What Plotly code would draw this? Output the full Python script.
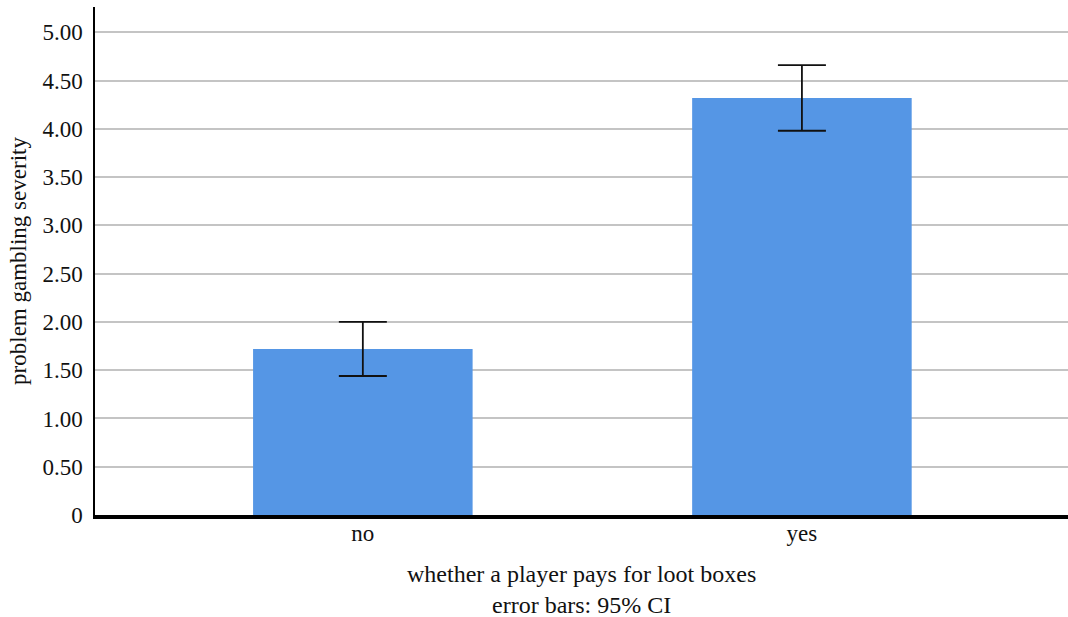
import plotly.graph_objects as go

categories = ["no", "yes"]
means = [1.72, 4.32]
ci_upper = [2.00, 4.66]
ci_lower = [1.44, 3.98]
tick_vals = [0, 0.5, 1, 1.5, 2, 2.5, 3, 3.5, 4, 4.5, 5]
tick_text = ["0", "0.50", "1.00", "1.50", "2.00", "2.50", "3.00", "3.50", "4.00", "4.50", "5.00"]

err_plus = [u - m for u, m in zip(ci_upper, means)]
err_minus = [m - l for m, l in zip(means, ci_lower)]

FONT = "Liberation Serif, Times New Roman, serif"
FS = 23

fig = go.Figure()
fig.add_trace(go.Bar(
    x=[0, 1], y=means, width=0.5,
    marker=dict(color="#5596E5", line=dict(width=0)),
    error_y=dict(type="data", symmetric=False, array=err_plus, arrayminus=err_minus,
                 color="#111111", thickness=1.8, width=24),
))

fig.update_layout(
    width=1068, height=617,
    margin=dict(l=95, r=0, t=7, b=102),
    paper_bgcolor="white", plot_bgcolor="white",
    showlegend=False,
    font=dict(family=FONT, size=FS, color="#111111"),
    xaxis=dict(
        range=[-0.61, 1.606], tickvals=[0, 1], ticktext=categories,
        showgrid=False, zeroline=False,
        showline=True, linecolor="black", linewidth=4,
        ticks="", ticklabelstandoff=-6, tickfont=dict(size=FS, family=FONT),
    ),
    yaxis=dict(
        range=[0, 5.262], tickvals=tick_vals, ticktext=tick_text,
        showgrid=True, gridcolor="#c4c4c4", gridwidth=1.5,
        zeroline=False, showline=True, linecolor="black", linewidth=1.5,
        ticks="", ticklabelstandoff=6,
        tickfont=dict(size=FS, family=FONT),
        title=dict(text="problem gambling severity", font=dict(size=FS, family=FONT), standoff=9),
    ),
    annotations=[
        dict(text="whether a player pays for loot boxes", xref="paper", yref="paper",
             x=0.5, y=-0.1161, xanchor="center", yanchor="middle", showarrow=False,
             font=dict(size=24, family=FONT)),
        dict(text="error bars: 95% CI", xref="paper", yref="paper",
             x=0.5, y=-0.1772, xanchor="center", yanchor="middle", showarrow=False,
             font=dict(size=24, family=FONT)),
    ],
)

fig.write_html("out.html", config={"displayModeBar": False},
               post_script="document.body.style.margin='0';")
